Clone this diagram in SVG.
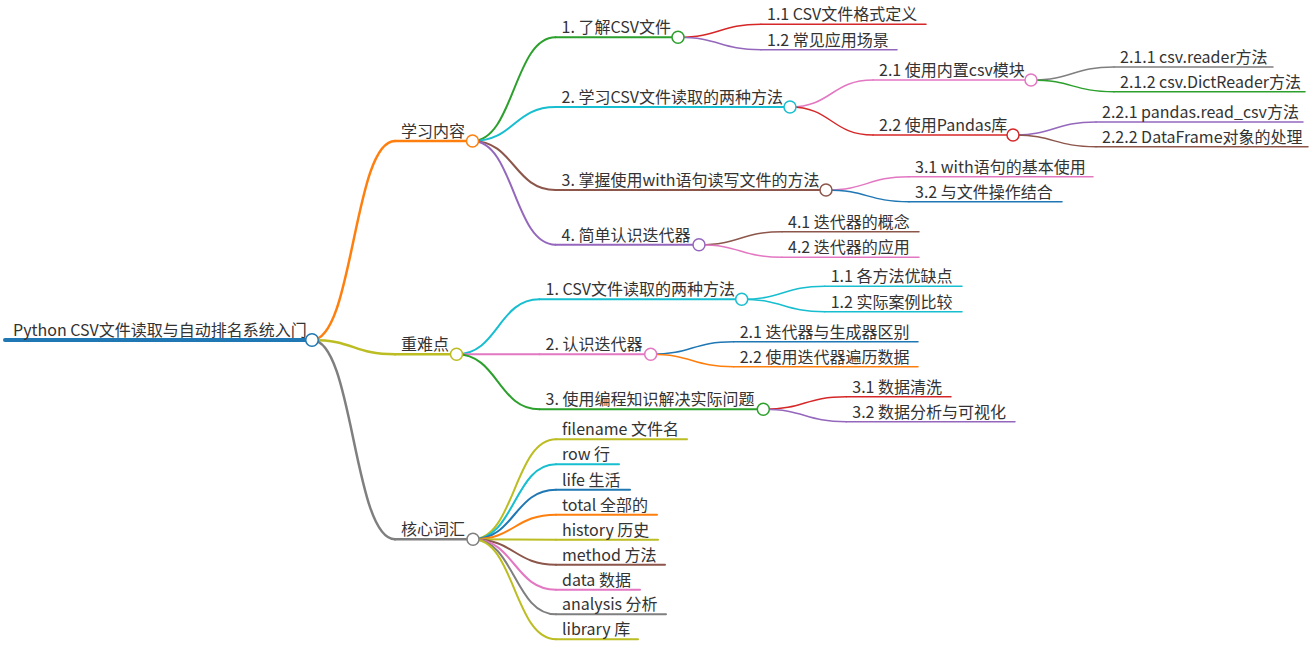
<svg xmlns="http://www.w3.org/2000/svg" width="1313" height="665" viewBox="0 0 1313 665">
<style>
.t{font-family:"Noto Sans CJK SC","Noto Sans",sans-serif;font-size:16px;fill:#333}
path,line{fill:none;stroke-linecap:round}
circle{fill:#fff;stroke-width:1.5}
.w1{stroke-width:2.5}.w2{stroke-width:2}.w3{stroke-width:1.5}
.blue{stroke:#1f77b4}.orange{stroke:#ff7f0e}.green{stroke:#2ca02c}.red{stroke:#d62728}.purple{stroke:#9467bd}
.brown{stroke:#8c564b}.pink{stroke:#e377c2}.gray{stroke:#7f7f7f}.olive{stroke:#bcbd22}.cyan{stroke:#17becf}
</style>
<rect width="1313" height="665" fill="#fff"/>
<g id="connectors">
<path class="w1 orange" d="M312,340 C353.5,340 353.5,141 395,141"/>
<path class="w1 olive" d="M312,340 C353.5,340 353.5,354.3 395,354.3"/>
<path class="w1 gray" d="M312,340 C353.5,340 353.5,539.3 395,539.3"/>
<path class="w2 green" d="M472.5,141 C514,141 514,37.3 555.5,37.3"/>
<path class="w2 cyan" d="M472.5,141 C514,141 514,107 555.5,107"/>
<path class="w2 brown" d="M472.5,141 C514,141 514,190 555.5,190"/>
<path class="w2 purple" d="M472.5,141 C514,141 514,244.7 555.5,244.7"/>
<path class="w3 red" d="M678,37.3 C719.5,37.3 719.5,24.3 761,24.3"/>
<path class="w3 purple" d="M678,37.3 C719.5,37.3 719.5,49.7 761,49.7"/>
<path class="w3 pink" d="M790,107 C831.5,107 831.5,80 873,80"/>
<path class="w3 red" d="M790,107 C831.5,107 831.5,135 873,135"/>
<path class="w3 gray" d="M1031,80 C1072.5,80 1072.5,67 1114,67"/>
<path class="w3 green" d="M1031,80 C1072.5,80 1072.5,91.7 1114,91.7"/>
<path class="w3 purple" d="M1013,135 C1054.5,135 1054.5,122 1096,122"/>
<path class="w3 brown" d="M1013,135 C1054.5,135 1054.5,146.7 1096,146.7"/>
<path class="w3 pink" d="M826,190 C867.5,190 867.5,176.7 909,176.7"/>
<path class="w3 blue" d="M826,190 C867.5,190 867.5,201.7 909,201.7"/>
<path class="w3 brown" d="M699,244.7 C740.5,244.7 740.5,231.7 782,231.7"/>
<path class="w3 pink" d="M699,244.7 C740.5,244.7 740.5,257.3 782,257.3"/>
<path class="w2 cyan" d="M456.5,354.3 C498,354.3 498,299.3 539.5,299.3"/>
<path class="w2 pink" d="M456.5,354.3 C498,354.3 498,354.3 539.5,354.3"/>
<path class="w2 green" d="M456.5,354.3 C498,354.3 498,409.3 539.5,409.3"/>
<path class="w3 cyan" d="M741.7,299.3 C783.2,299.3 783.2,286.3 824.7,286.3"/>
<path class="w3 cyan" d="M741.7,299.3 C783.2,299.3 783.2,311.7 824.7,311.7"/>
<path class="w3 blue" d="M650.7,354.3 C692.2,354.3 692.2,341.7 733.7,341.7"/>
<path class="w3 orange" d="M650.7,354.3 C692.2,354.3 692.2,366.7 733.7,366.7"/>
<path class="w3 red" d="M763.3,409.3 C804.8,409.3 804.8,396.7 846.3,396.7"/>
<path class="w3 purple" d="M763.3,409.3 C804.8,409.3 804.8,421.7 846.3,421.7"/>
<path class="w2 olive" d="M473,539.3 C514.5,539.3 514.5,439.3 556,439.3"/>
<path class="w2 cyan" d="M473,539.3 C514.5,539.3 514.5,464.3 556,464.3"/>
<path class="w2 blue" d="M473,539.3 C514.5,539.3 514.5,489.7 556,489.7"/>
<path class="w2 orange" d="M473,539.3 C514.5,539.3 514.5,514.7 556,514.7"/>
<path class="w2 olive" d="M473,539.3 C514.5,539.3 514.5,539.7 556,539.7"/>
<path class="w2 brown" d="M473,539.3 C514.5,539.3 514.5,564.7 556,564.7"/>
<path class="w2 pink" d="M473,539.3 C514.5,539.3 514.5,589.7 556,589.7"/>
<path class="w2 gray" d="M473,539.3 C514.5,539.3 514.5,614.3 556,614.3"/>
<path class="w2 olive" d="M473,539.3 C514.5,539.3 514.5,639.3 556,639.3"/>
</g>
<g id="root"><line class="blue" stroke-width="4" x1="5" y1="340" x2="306" y2="340"/><circle class="blue" cx="312" cy="340" r="6.25"/><text class="t" x="13" y="336">Python CSV文件读取与自动排名系统入门</text></g>
<g id="n1"><line class="w1 orange" x1="395" y1="141" x2="467" y2="141"/><circle class="orange" cx="472.5" cy="141" r="6"/><text class="t" x="401" y="137">学习内容</text></g>
<g id="n1-1"><line class="w2 green" x1="555.5" y1="37.3" x2="672.5" y2="37.3"/><circle class="green" cx="678" cy="37.3" r="6"/><text class="t" x="561.5" y="33.3">1. 了解CSV文件</text></g>
<g id="n1-1-1"><line class="w3 red" x1="761" y1="24.3" x2="926" y2="24.3"/><text class="t" x="767" y="20.3">1.1 CSV文件格式定义</text></g>
<g id="n1-1-2"><line class="w3 purple" x1="761" y1="49.7" x2="897" y2="49.7"/><text class="t" x="767" y="45.7">1.2 常见应用场景</text></g>
<g id="n1-2"><line class="w2 cyan" x1="555.5" y1="107" x2="784.5" y2="107"/><circle class="cyan" cx="790" cy="107" r="6"/><text class="t" x="561.5" y="103">2. 学习CSV文件读取的两种方法</text></g>
<g id="n1-2-1"><line class="w3 pink" x1="873" y1="80" x2="1025.5" y2="80"/><circle class="pink" cx="1031" cy="80" r="6"/><text class="t" x="879" y="76">2.1 使用内置csv模块</text></g>
<g id="n1-2-1-1"><line class="w3 gray" x1="1114" y1="67" x2="1273" y2="67"/><text class="t" x="1120" y="63">2.1.1 csv.reader方法</text></g>
<g id="n1-2-1-2"><line class="w3 green" x1="1114" y1="91.7" x2="1305" y2="91.7"/><text class="t" x="1120" y="87.7">2.1.2 csv.DictReader方法</text></g>
<g id="n1-2-2"><line class="w3 red" x1="873" y1="135" x2="1007.5" y2="135"/><circle class="red" cx="1013" cy="135" r="6"/><text class="t" x="879" y="131">2.2 使用Pandas库</text></g>
<g id="n1-2-2-1"><line class="w3 purple" x1="1096" y1="122" x2="1303" y2="122"/><text class="t" x="1102" y="118">2.2.1 pandas.read_csv方法</text></g>
<g id="n1-2-2-2"><line class="w3 brown" x1="1096" y1="146.7" x2="1308" y2="146.7"/><text class="t" x="1102" y="142.7">2.2.2 DataFrame对象的处理</text></g>
<g id="n1-3"><line class="w2 brown" x1="555.5" y1="190" x2="820.5" y2="190"/><circle class="brown" cx="826" cy="190" r="6"/><text class="t" x="561.5" y="186">3. 掌握使用with语句读写文件的方法</text></g>
<g id="n1-3-1"><line class="w3 pink" x1="909" y1="176.7" x2="1093" y2="176.7"/><text class="t" x="915" y="172.7">3.1 with语句的基本使用</text></g>
<g id="n1-3-2"><line class="w3 blue" x1="909" y1="201.7" x2="1062" y2="201.7"/><text class="t" x="915" y="197.7">3.2 与文件操作结合</text></g>
<g id="n1-4"><line class="w2 purple" x1="555.5" y1="244.7" x2="693.5" y2="244.7"/><circle class="purple" cx="699" cy="244.7" r="6"/><text class="t" x="561.5" y="240.7">4. 简单认识迭代器</text></g>
<g id="n1-4-1"><line class="w3 brown" x1="782" y1="231.7" x2="919" y2="231.7"/><text class="t" x="788" y="227.7">4.1 迭代器的概念</text></g>
<g id="n1-4-2"><line class="w3 pink" x1="782" y1="257.3" x2="919" y2="257.3"/><text class="t" x="788" y="253.3">4.2 迭代器的应用</text></g>
<g id="n2"><line class="w1 olive" x1="395" y1="354.3" x2="451" y2="354.3"/><circle class="olive" cx="456.5" cy="354.3" r="6"/><text class="t" x="401" y="350.3">重难点</text></g>
<g id="n2-1"><line class="w2 cyan" x1="539.5" y1="299.3" x2="736.2" y2="299.3"/><circle class="cyan" cx="741.7" cy="299.3" r="6"/><text class="t" x="545.5" y="295.3">1. CSV文件读取的两种方法</text></g>
<g id="n2-1-1"><line class="w3 cyan" x1="824.7" y1="286.3" x2="962" y2="286.3"/><text class="t" x="830.7" y="282.3">1.1 各方法优缺点</text></g>
<g id="n2-1-2"><line class="w3 cyan" x1="824.7" y1="311.7" x2="962" y2="311.7"/><text class="t" x="830.7" y="307.7">1.2 实际案例比较</text></g>
<g id="n2-2"><line class="w2 pink" x1="539.5" y1="354.3" x2="645.2" y2="354.3"/><circle class="pink" cx="650.7" cy="354.3" r="6"/><text class="t" x="545.5" y="350.3">2. 认识迭代器</text></g>
<g id="n2-2-1"><line class="w3 blue" x1="733.7" y1="341.7" x2="918" y2="341.7"/><text class="t" x="739.7" y="337.7">2.1 迭代器与生成器区别</text></g>
<g id="n2-2-2"><line class="w3 orange" x1="733.7" y1="366.7" x2="918" y2="366.7"/><text class="t" x="739.7" y="362.7">2.2 使用迭代器遍历数据</text></g>
<g id="n2-3"><line class="w2 green" x1="539.5" y1="409.3" x2="757.8" y2="409.3"/><circle class="green" cx="763.3" cy="409.3" r="6"/><text class="t" x="545.5" y="405.3">3. 使用编程知识解决实际问题</text></g>
<g id="n2-3-1"><line class="w3 red" x1="846.3" y1="396.7" x2="951" y2="396.7"/><text class="t" x="852.3" y="392.7">3.1 数据清洗</text></g>
<g id="n2-3-2"><line class="w3 purple" x1="846.3" y1="421.7" x2="1015" y2="421.7"/><text class="t" x="852.3" y="417.7">3.2 数据分析与可视化</text></g>
<g id="n3"><line class="w1 gray" x1="395" y1="539.3" x2="467.5" y2="539.3"/><circle class="gray" cx="473" cy="539.3" r="6"/><text class="t" x="401" y="535.3">核心词汇</text></g>
<g id="n3-1"><line class="w2 olive" x1="556" y1="439.3" x2="687" y2="439.3"/><text class="t" x="562" y="435.3">filename 文件名</text></g>
<g id="n3-2"><line class="w2 cyan" x1="556" y1="464.3" x2="619" y2="464.3"/><text class="t" x="562" y="460.3">row 行</text></g>
<g id="n3-3"><line class="w2 blue" x1="556" y1="489.7" x2="630" y2="489.7"/><text class="t" x="562" y="485.7">life 生活</text></g>
<g id="n3-4"><line class="w2 orange" x1="556" y1="514.7" x2="657" y2="514.7"/><text class="t" x="562" y="510.7">total 全部的</text></g>
<g id="n3-5"><line class="w2 olive" x1="556" y1="539.7" x2="658" y2="539.7"/><text class="t" x="562" y="535.7">history 历史</text></g>
<g id="n3-6"><line class="w2 brown" x1="556" y1="564.7" x2="665" y2="564.7"/><text class="t" x="562" y="560.7">method 方法</text></g>
<g id="n3-7"><line class="w2 pink" x1="556" y1="589.7" x2="640" y2="589.7"/><text class="t" x="562" y="585.7">data 数据</text></g>
<g id="n3-8"><line class="w2 gray" x1="556" y1="614.3" x2="666" y2="614.3"/><text class="t" x="562" y="610.3">analysis 分析</text></g>
<g id="n3-9"><line class="w2 olive" x1="556" y1="639.3" x2="638" y2="639.3"/><text class="t" x="562" y="635.3">library 库</text></g>
</svg>
